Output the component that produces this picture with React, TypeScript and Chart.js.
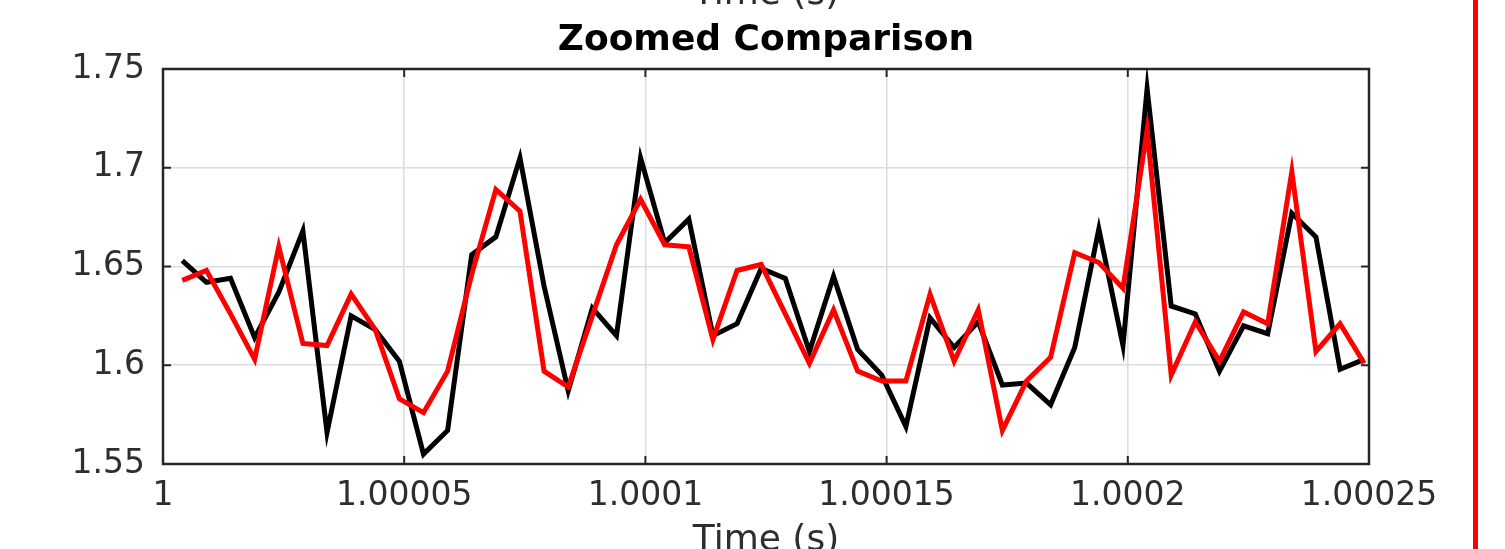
import React, { useEffect, useRef } from "react";
import { Chart, registerables } from "chart.js";

Chart.register(...registerables);

// ---- data ----
const timeSeconds = [
  1.000004, 1.000009, 1.000014, 1.000019, 1.000024, 1.000029, 1.000034, 1.000039, 1.000044, 1.000049,
  1.000054, 1.000059, 1.000064, 1.000069, 1.000074, 1.000079, 1.000084, 1.000089, 1.000094, 1.000099,
  1.000104, 1.000109, 1.000114, 1.000119, 1.000124, 1.000129, 1.000134, 1.000139, 1.000144, 1.000149,
  1.000154, 1.000159, 1.000164, 1.000169, 1.000174, 1.000179, 1.000184, 1.000189, 1.000194, 1.000199,
  1.000204, 1.000209, 1.000214, 1.000219, 1.000224, 1.000229, 1.000234, 1.000239, 1.000244, 1.000249,
];

const blackSeries = [
  1.653, 1.642, 1.644, 1.614, 1.637, 1.668, 1.566, 1.625, 1.618, 1.602,
  1.555, 1.567, 1.656, 1.665, 1.705, 1.640, 1.587, 1.629, 1.615, 1.705,
  1.662, 1.674, 1.615, 1.621, 1.649, 1.644, 1.607, 1.645, 1.608, 1.595,
  1.569, 1.624, 1.609, 1.622, 1.590, 1.591, 1.580, 1.609, 1.669, 1.610,
  1.740, 1.630, 1.626, 1.597, 1.620, 1.616, 1.677, 1.665, 1.598, 1.603,
];

const redSeries = [
  1.643, 1.648, 1.626, 1.603, 1.660, 1.611, 1.610, 1.636, 1.618, 1.583,
  1.576, 1.597, 1.646, 1.689, 1.678, 1.597, 1.589, 1.625, 1.661, 1.684,
  1.661, 1.660, 1.613, 1.648, 1.651, 1.626, 1.601, 1.628, 1.597, 1.592,
  1.592, 1.636, 1.602, 1.628, 1.567, 1.592, 1.604, 1.657, 1.652, 1.639,
  1.719, 1.595, 1.622, 1.602, 1.627, 1.621, 1.698, 1.607, 1.621, 1.601,
];

const xTickValues = [1, 1.00005, 1.0001, 1.00015, 1.0002, 1.00025];
const xTickLabels = ["1", "1.00005", "1.0001", "1.00015", "1.0002", "1.00025"];
const yTickValues = [1.55, 1.6, 1.65, 1.7, 1.75];
const yTickLabels = ["1.55", "1.6", "1.65", "1.7", "1.75"];

const titleText = "Zoomed Comparison";
const xLabelText = "Time (s)";
const previousXLabelText = "Time (s)";

// ---- layout / style ----
const W = 1505;
const H = 549;
const AREA = { left: 163, right: 1369, top: 69, bottom: 464 };
const FONT = '"DejaVu Sans", "Liberation Sans", sans-serif';
const TEXT_COLOR = "#2e2e2e";
const TICK_SIZE = 33;
const LABEL_SIZE = 36;

const matlabAxesPlugin = {
  id: "matlabAxes",
  beforeDatasetsDraw(chart: any) {
    const { ctx, chartArea: a, scales } = chart;
    ctx.save();
    ctx.strokeStyle = "#262626";
    ctx.lineWidth = 2.5;
    ctx.strokeRect(a.left, a.top, a.right - a.left, a.bottom - a.top);
    const L = 8;
    ctx.lineWidth = 2;
    ctx.beginPath();
    for (const v of xTickValues) {
      const px = scales.x.getPixelForValue(v);
      ctx.moveTo(px, a.bottom);
      ctx.lineTo(px, a.bottom - L);
      ctx.moveTo(px, a.top);
      ctx.lineTo(px, a.top + L);
    }
    for (const v of yTickValues) {
      const py = scales.y.getPixelForValue(v);
      ctx.moveTo(a.left, py);
      ctx.lineTo(a.left + L, py);
      ctx.moveTo(a.right, py);
      ctx.lineTo(a.right - L, py);
    }
    ctx.stroke();
    ctx.restore();
  },
  afterDraw(chart: any) {
    const { ctx, chartArea: a } = chart;
    const cx = (a.left + a.right) / 2;
    ctx.save();
    ctx.textAlign = "center";
    ctx.textBaseline = "alphabetic";
    ctx.fillStyle = "#000000";
    ctx.font = `bold ${LABEL_SIZE}px ${FONT}`;
    ctx.fillText(titleText, cx, 50);
    ctx.fillStyle = TEXT_COLOR;
    ctx.font = `${LABEL_SIZE}px ${FONT}`;
    ctx.fillText(xLabelText, cx, 550);
    ctx.fillText(previousXLabelText, cx, 4);
    ctx.restore();
  },
};

export default function App() {
  const canvasRef = useRef<HTMLCanvasElement | null>(null);

  useEffect(() => {
    if (!canvasRef.current) return;
    const blackData = timeSeconds.map((t, i) => ({ x: t, y: blackSeries[i] }));
    const redData = timeSeconds.map((t, i) => ({ x: t, y: redSeries[i] }));

    const chart = new Chart(canvasRef.current, {
      type: "line",
      data: {
        datasets: [
          {
            label: "Black",
            data: blackData,
            borderColor: "#000000",
            borderWidth: 5,
            pointRadius: 0,
            borderJoinStyle: "miter",
            tension: 0,
            order: 2,
          },
          {
            label: "Red",
            data: redData,
            borderColor: "#ff0000",
            borderWidth: 5,
            pointRadius: 0,
            borderJoinStyle: "miter",
            tension: 0,
            order: 1,
          },
        ],
      },
      options: {
        responsive: false,
        animation: false,
        devicePixelRatio: 1,
        layout: { padding: { top: AREA.top, right: W - AREA.right, left: 0, bottom: 0 } },
        plugins: {
          legend: { display: false },
          title: { display: false },
          tooltip: { enabled: false },
        },
        scales: {
          x: {
            type: "linear",
            min: 1,
            max: 1.00025,
            afterBuildTicks: (s: any) => {
              s.ticks = xTickValues.map((v) => ({ value: v }));
            },
            afterFit: (s: any) => {
              s.height = H - AREA.bottom;
            },
            ticks: {
              callback: (v: any) => xTickLabels[xTickValues.indexOf(v)] ?? "",
              font: { family: FONT, size: TICK_SIZE },
              color: TEXT_COLOR,
              padding: 13,
              maxRotation: 0,
              autoSkip: false,
            },
            grid: { color: "#dcdcdc", lineWidth: 1.5, drawTicks: false },
            border: { display: false },
          },
          y: {
            type: "linear",
            min: 1.55,
            max: 1.75,
            afterBuildTicks: (s: any) => {
              s.ticks = yTickValues.map((v) => ({ value: v }));
            },
            afterFit: (s: any) => {
              s.width = AREA.left;
            },
            ticks: {
              callback: (v: any) => yTickLabels[yTickValues.indexOf(v)] ?? "",
              font: { family: FONT, size: TICK_SIZE },
              color: TEXT_COLOR,
              padding: 18,
              autoSkip: false,
            },
            grid: { color: "#dcdcdc", lineWidth: 1.5, drawTicks: false },
            border: { display: false },
          },
        },
      },
      plugins: [matlabAxesPlugin],
    } as any);

    return () => chart.destroy();
  }, []);

  return (
    <div style={{ position: "fixed", left: 0, top: 0, width: W, height: H, background: "#ffffff", overflow: "hidden" }}>
      <canvas ref={canvasRef} width={W} height={H} style={{ display: "block" }} />
      <div style={{ position: "absolute", left: 1473, top: 0, width: 5, height: H, background: "#ff0000" }} />
    </div>
  );
}
